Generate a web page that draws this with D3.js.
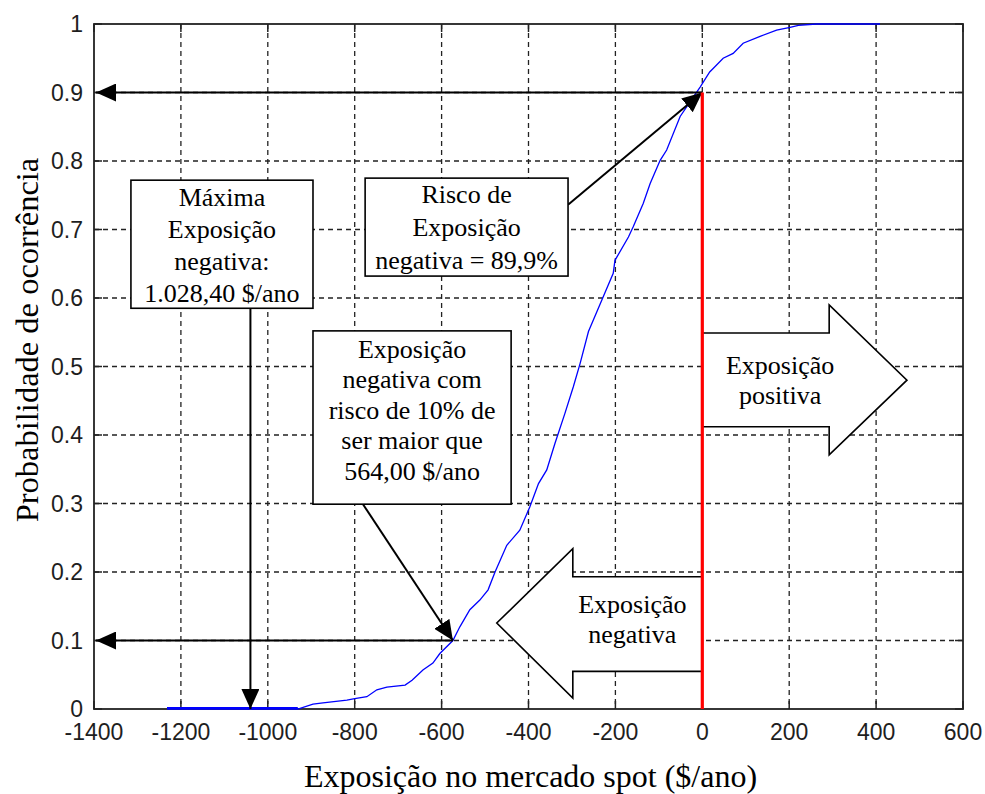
<!DOCTYPE html>
<meta charset="utf-8">
<script src="https://cdn.jsdelivr.net/npm/d3@7"></script>
<style>
  body { margin: 0; background: #fff; }
  .tick-label { font-family: "Liberation Sans", Arial, sans-serif; font-size: 23px; fill: #1e1e1e; }
  .serif { font-family: "Liberation Serif", "Times New Roman", serif; fill: #000; }
</style>
<body>
<script>

var width = 985
var height = 794
var margin = {left: 94, right: 22, top: 24, bottom: 85}

var expo = [-1232, -931, -896, -873, -818, -800, -772, -749, -726, -684, -668, -643, -620, -604, -574,
            -558, -535, -512, -493, -477, -450, -420, -397, -377, -358, -339, -316, -297, -281, -262,
            -228, -205, -201, -170, -159, -136, -120, -97, -82, -51, -20, -5, 17, 25, 48, 71, 94,
            133, 171, 202, 221, 263, 409]
var prob = [0, 0, 0.007, 0.009, 0.013, 0.015, 0.018, 0.028, 0.032, 0.035, 0.042, 0.057, 0.067, 0.081, 0.1,
            0.12, 0.145, 0.159, 0.174, 0.2, 0.239, 0.261, 0.295, 0.329, 0.349, 0.388, 0.432, 0.47, 0.505, 0.551,
            0.602, 0.636, 0.655, 0.689, 0.704, 0.738, 0.767, 0.801, 0.816, 0.865, 0.894, 0.908, 0.93, 0.935, 0.95, 0.957, 0.972,
            0.982, 0.991, 0.995, 0.998, 1, 1]

var xTicks = [-1400, -1200, -1000, -800, -600, -400, -200, 0, 200, 400, 600]
var yTicks = [0, 0.1, 0.2, 0.3, 0.4, 0.5, 0.6, 0.7, 0.8, 0.9, 1]

// annotation values
var riskPoint = [0, 0.9]
var p10Point = [-574, 0.1]
var maxNeg = -1040

var box1Text = ["Máxima", "Exposição", "negativa:", "1.028,40 $/ano"]
var box2Text = ["Risco de", "Exposição", "negativa = 89,9%"]
var box3Text = ["Exposição", "negativa com", "risco de 10% de", "ser maior que", "564,00 $/ano"]
var posText = ["Exposição", "positiva"]
var negText = ["Exposição", "negativa"]

var x = d3.scaleLinear().domain([-1400, 600]).range([margin.left, width - margin.right])
var y = d3.scaleLinear().domain([0, 1]).range([height - margin.bottom, margin.top])

var svg = d3.select("body").append("svg")
            .attr("width", width)
            .attr("height", height)

svg.append("defs").append("marker")
   .attr("id", "head")
   .attr("viewBox", "0 0 20 18")
   .attr("refX", 20).attr("refY", 9)
   .attr("markerWidth", 20).attr("markerHeight", 18)
   .attr("markerUnits", "userSpaceOnUse")
   .attr("orient", "auto")
   .append("path").attr("d", "M0,0 L20,9 L0,18 Z").attr("fill", "#000")

var x0 = x.range()[0], x1 = x.range()[1], y0 = y.range()[0], y1 = y.range()[1]

// grid
var grid = svg.append("g").attr("stroke", "#222").attr("stroke-width", 1.3).attr("stroke-dasharray", "5,4")
grid.selectAll(".gx").data(xTicks.slice(1, -1)).enter().append("line")
    .attr("x1", d => x(d)).attr("x2", d => x(d)).attr("y1", y1).attr("y2", y0)
grid.selectAll(".gy").data(yTicks.slice(1, -1)).enter().append("line")
    .attr("y1", d => y(d)).attr("y2", d => y(d)).attr("x1", x0).attr("x2", x1)

// inner tick marks on all four sides
var ticks = svg.append("g").attr("stroke", "#222").attr("stroke-width", 1.5)
xTicks.forEach(function(d) {
  ticks.append("line").attr("x1", x(d)).attr("x2", x(d)).attr("y1", y0).attr("y2", y0 - 8)
  ticks.append("line").attr("x1", x(d)).attr("x2", x(d)).attr("y1", y1).attr("y2", y1 + 8)
})
yTicks.forEach(function(d) {
  ticks.append("line").attr("y1", y(d)).attr("y2", y(d)).attr("x1", x0).attr("x2", x0 + 8)
  ticks.append("line").attr("y1", y(d)).attr("y2", y(d)).attr("x1", x1).attr("x2", x1 - 8)
})

// frame
svg.append("rect").attr("x", x0).attr("y", y1).attr("width", x1 - x0).attr("height", y0 - y1)
   .attr("fill", "none").attr("stroke", "#222").attr("stroke-width", 1.8)

// the CDF curve
var line = d3.line().x((d, i) => x(expo[i])).y((d, i) => y(prob[i]))
svg.append("path").attr("d", line(expo))
   .attr("fill", "none").attr("stroke", "#0000ff").attr("stroke-width", 1.3)
svg.append("line").attr("x1", x(expo[0])).attr("x2", x(expo[1])).attr("y1", y(0) - 1).attr("y2", y(0) - 1)
   .attr("stroke", "#0000ff").attr("stroke-width", 2)

// tick labels
svg.selectAll(".xl").data(xTicks).enter().append("text").attr("class", "tick-label")
   .attr("x", d => x(d)).attr("y", y0 + 31).attr("text-anchor", "middle").text(d => d)
svg.selectAll(".yl").data(yTicks).enter().append("text").attr("class", "tick-label")
   .attr("x", x0 - 11).attr("y", d => y(d) + 8).attr("text-anchor", "end").text(d => d)

// axis titles
svg.append("text").attr("class", "serif").style("font-size", "32px")
   .attr("x", (x0 + x1) / 2 + 2).attr("y", 787).attr("text-anchor", "middle")
   .text("Exposição no mercado spot ($/ano)")
svg.append("text").attr("class", "serif").style("font-size", "32.5px")
   .attr("transform", "translate(38,340) rotate(-90)").attr("text-anchor", "middle")
   .text("Probabilidade de ocorrência")

// black arrows
function arrow(xa, ya, xb, yb) {
  svg.append("line").attr("x1", xa).attr("y1", ya).attr("x2", xb).attr("y2", yb)
     .attr("stroke", "#000").attr("stroke-width", 2).attr("marker-end", "url(#head)")
}
arrow(x(riskPoint[0]), y(riskPoint[1]), x0 + 2, y(riskPoint[1]))
arrow(x(p10Point[0]), y(p10Point[1]), x0 + 2, y(p10Point[1]))
arrow(x(maxNeg), y(0.585), x(maxNeg), y(0))
arrow(x(-309), y(0.736), x(riskPoint[0]), y(riskPoint[1]))
arrow(x(-781), y(0.299), x(p10Point[0]), y(p10Point[1]))

// text boxes
function box(xa, xb, ya, yb, lines, firstY, step) {
  var g = svg.append("g")
  g.append("rect").attr("x", x(xa)).attr("y", y(ya)).attr("width", x(xb) - x(xa)).attr("height", y(yb) - y(ya))
   .attr("fill", "#fff").attr("stroke", "#000").attr("stroke-width", 1.6)
  g.selectAll("text").data(lines).enter().append("text").attr("class", "serif")
   .style("font-size", "26px").attr("text-anchor", "middle")
   .attr("x", (x(xa) + x(xb)) / 2).attr("y", (d, i) => y(ya) + firstY + i * step).text(d => d)
}
box(-1315, -896, 0.772, 0.585, box1Text, 26, 32)
box(-776, -309, 0.775, 0.632, box2Text, 25, 33)
box(-896, -440, 0.552, 0.299, box3Text, 27, 30.5)

// block arrows
function block(pts, lines, cx, cy) {
  svg.append("path").attr("d", "M" + pts.map(p => x(p[0]) + "," + y(p[1])).join("L") + "Z")
     .attr("fill", "#fff").attr("stroke", "#000").attr("stroke-width", 1.6)
  svg.selectAll(null).data(lines).enter().append("text").attr("class", "serif")
     .style("font-size", "26px").attr("text-anchor", "middle")
     .attr("x", x(cx)).attr("y", (d, i) => y(cy) + i * 30).text(d => d)
}
block([[0, 0.549], [292, 0.549], [292, 0.59], [471, 0.48], [292, 0.371], [292, 0.412], [0, 0.412]], posText, 179, 0.489)
block([[0, 0.193], [-298, 0.193], [-298, 0.234], [-473, 0.1255], [-298, 0.016], [-298, 0.055], [0, 0.055]], negText, -161, 0.1405)

// red line at zero exposure
svg.append("line").attr("x1", x(0)).attr("x2", x(0)).attr("y1", y(riskPoint[1])).attr("y2", y(0))
   .attr("stroke", "#ff0000").attr("stroke-width", 3.2)

</script>
</body>
